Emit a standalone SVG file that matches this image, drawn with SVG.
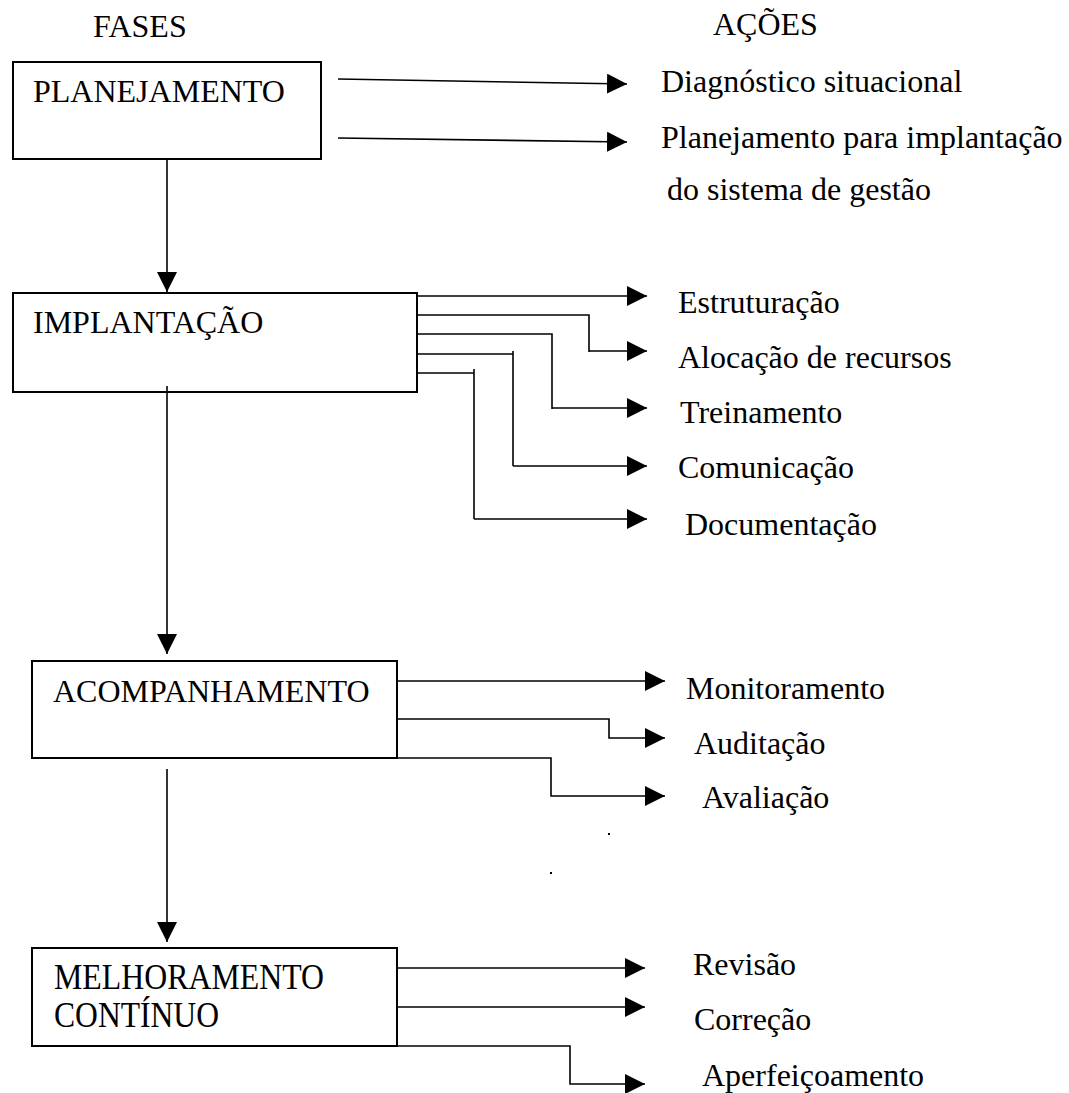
<svg xmlns="http://www.w3.org/2000/svg" width="1069" height="1093" viewBox="0 0 1069 1093">
  <style>
    .box { fill: #ffffff; stroke: #000000; stroke-width: 2; }
    .lbl { font-family: 'Liberation Serif', 'Times New Roman', Times, 'DejaVu Serif', serif; font-size: 32px; fill: #000000; }
    .cond { font-size: 36px; }
    .wire { fill: none; stroke: #000000; stroke-width: 1.6; }
    .arr { fill: none; stroke: #000000; stroke-width: 1.6; marker-end: url(#head); }
  </style>
  <defs>
    <marker id="head" markerUnits="userSpaceOnUse" markerWidth="20" markerHeight="20" refX="20" refY="10" orient="auto" viewBox="0 0 20 20">
      <path d="M0,0 L20,10 L0,20 Z" fill="#000000"/>
    </marker>
  </defs>
  <rect width="1069" height="1093" fill="#ffffff"/>

  <g font-family="Liberation Serif, Times New Roman, serif">
  <!-- column headings -->
  <text class="lbl" x="93" y="37">FASES</text>
  <text class="lbl" x="713" y="35">AÇÕES</text>

  <!-- phase boxes -->
  <g id="planejamento">
    <rect class="box" x="13" y="62" width="308" height="97"/>
    <text class="lbl" x="33" y="102">PLANEJAMENTO</text>
  </g>
  <g id="implantacao">
    <rect class="box" x="13" y="293" width="404" height="99"/>
    <text class="lbl" x="33" y="333">IMPLANTAÇÃO</text>
  </g>
  <g id="acompanhamento">
    <rect class="box" x="32" y="661" width="365" height="97"/>
    <text class="lbl" x="53" y="702">ACOMPANHAMENTO</text>
  </g>
  <g id="melhoramento">
    <rect class="box" x="32" y="948" width="365" height="98"/>
    <text class="lbl cond" x="54" y="989" textLength="270" lengthAdjust="spacingAndGlyphs">MELHORAMENTO</text>
    <text class="lbl cond" x="54" y="1027" textLength="165" lengthAdjust="spacingAndGlyphs">CONTÍNUO</text>
  </g>

  <!-- action labels -->
  <g id="acoes-planejamento">
    <text class="lbl" x="661" y="92">Diagnóstico situacional</text>
    <text class="lbl" x="661" y="148">Planejamento para implantação</text>
    <text class="lbl" x="667" y="200">do sistema de gestão</text>
  </g>
  <g id="acoes-implantacao">
    <text class="lbl" x="678" y="313">Estruturação</text>
    <text class="lbl" x="678" y="368">Alocação de recursos</text>
    <text class="lbl" x="680" y="423">Treinamento</text>
    <text class="lbl" x="678" y="478">Comunicação</text>
    <text class="lbl" x="685" y="535">Documentação</text>
  </g>
  <g id="acoes-acompanhamento">
    <text class="lbl" x="686" y="699">Monitoramento</text>
    <text class="lbl" x="694" y="754">Auditação</text>
    <text class="lbl" x="702" y="808">Avaliação</text>
  </g>
  <g id="acoes-melhoramento">
    <text class="lbl" x="693" y="975">Revisão</text>
    <text class="lbl" x="694" y="1030">Correção</text>
    <text class="lbl" x="702" y="1086">Aperfeiçoamento</text>
  </g>
  </g>

  <!-- connectors -->
  <g id="connectors">
    <!-- phase sequence -->
    <path class="arr" d="M167,159 V292"/>
    <path class="arr" d="M167,386 V654"/>
    <path class="arr" d="M167,769 V942"/>

    <!-- planejamento actions -->
    <path class="arr" d="M338,79 L627,84"/>
    <path class="arr" d="M338,138 L627,142"/>

    <!-- implantacao actions -->
    <path class="arr" d="M417,296 H647"/>
    <path class="wire" d="M417,315 H589 V352"/>
    <path class="arr" d="M589,351 H647"/>
    <path class="wire" d="M417,334 H552 V409"/>
    <path class="arr" d="M552,408 H647"/>
    <path class="wire" d="M417,354 H513"/>
    <path class="wire" d="M513,351 V466"/>
    <path class="arr" d="M513,466 H647"/>
    <path class="wire" d="M417,373 H474"/>
    <path class="wire" d="M474,369 V519"/>
    <path class="arr" d="M474,519 H647"/>

    <!-- acompanhamento actions -->
    <path class="arr" d="M397,681 H665"/>
    <path class="arr" d="M397,719 H609 V738 H665"/>
    <path class="arr" d="M397,758 H551 V796 H665"/>

    <!-- melhoramento actions -->
    <path class="arr" d="M397,968 H645"/>
    <path class="arr" d="M397,1007 H645"/>
    <path class="arr" d="M397,1046 H570 V1084 H645"/>
  </g>

  <!-- stray specks -->
  <rect x="608" y="833" width="2" height="2" fill="#000000"/>
  <rect x="550" y="872" width="2" height="2" fill="#000000"/>
</svg>
